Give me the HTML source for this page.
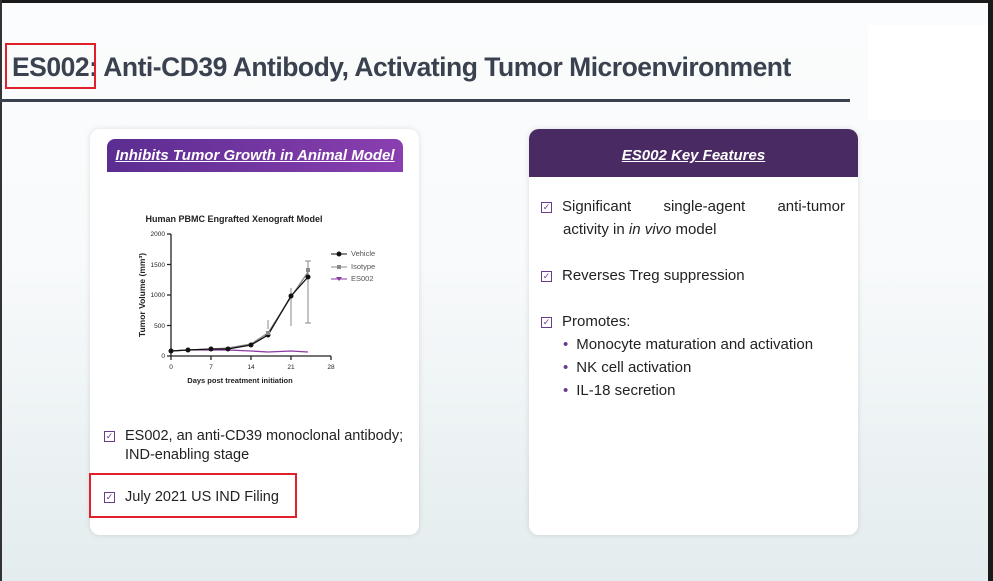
<!DOCTYPE html><html><head><style>
body{margin:0;width:993px;height:581px;overflow:hidden;font-family:"Liberation Sans",sans-serif;position:relative;background:linear-gradient(#fbfcfd 0%,#f8fafb 45%,#e3ecee 100%);}
.a{position:absolute}
.card{position:absolute;background:#fff;border-radius:10px;box-shadow:0 0 6px rgba(0,0,0,.12)}
.hd{position:absolute;color:#fff;font-weight:bold;font-style:italic;text-decoration:underline;font-size:15px;text-align:center}
.li{position:absolute;font-size:15px;color:#222;line-height:23px;white-space:nowrap}
.cb{display:inline-block;width:9px;height:9px;border:1px solid #6a3c8c;margin-right:10px;vertical-align:1px;font-size:9px;line-height:9px;color:#6a3c8c;text-align:center}
</style></head><body>
<div class="a" style="left:0;top:0;width:993px;height:3px;background:#1a1a1a"></div>
<div class="a" style="right:0;top:0;width:5px;height:581px;background:#1a1a1a"></div>
<div class="a" style="left:0;top:0;width:2px;height:581px;background:#333"></div>
<div class="a" style="left:868px;top:25px;width:120px;height:95px;background:#fff"></div>
<div class="a" style="left:12px;top:52px;font-size:26.5px;font-weight:bold;color:#3a4250;letter-spacing:-0.5px">ES002: Anti-CD39 Antibody, Activating Tumor Microenvironment</div>
<div class="a" style="left:5px;top:43px;width:91px;height:46px;border:2px solid #e0202a;box-sizing:border-box"></div>
<div class="a" style="left:0;top:99px;width:850px;height:3px;background:#3a4250"></div>
<div class="card" style="left:90px;top:129px;width:329px;height:406px"></div>
<div class="a" style="left:107px;top:139px;width:296px;height:33px;border-radius:8px 8px 0 0;background:linear-gradient(90deg,#5b2d91,#8a3fb0)"></div>
<div class="hd" style="left:107px;top:147px;width:296px">Inhibits Tumor Growth in Animal Model</div>
<div class="card" style="left:529px;top:129px;width:329px;height:406px"></div>
<div class="a" style="left:529px;top:129px;width:329px;height:48px;border-radius:10px 10px 0 0;background:#4a2a62"></div>
<div class="hd" style="left:529px;top:147px;width:329px">ES002 Key Features</div>
<svg class="a" style="left:130px;top:205px" width="260" height="180" font-family="Liberation Sans" >
<text x="104" y="17" font-size="9" font-weight="bold" text-anchor="middle" fill="#222">Human PBMC Engrafted Xenograft Model</text>
<g stroke="#222" stroke-width="1.3" fill="none"><path d="M41 29V151H201"/>
<path d="M37 29h4M37 59.5h4M37 90h4M37 120.5h4M37 151h4M41 151v4M81 151v4M121 151v4M161 151v4M201 151v4"/></g>
<g font-size="6.5" fill="#222" text-anchor="end"><text x="35" y="31">2000</text><text x="35" y="62">1500</text><text x="35" y="92">1000</text><text x="35" y="123">500</text><text x="35" y="153">0</text></g>
<g font-size="6.5" fill="#222" text-anchor="middle"><text x="41" y="164">0</text><text x="81" y="164">7</text><text x="121" y="164">14</text><text x="161" y="164">21</text><text x="201" y="164">28</text></g>
<text x="110" y="178" font-size="7.5" font-weight="bold" text-anchor="middle" fill="#222">Days post treatment initiation</text>
<text transform="translate(15,90) rotate(-90)" font-size="8.5" font-weight="bold" text-anchor="middle" fill="#222">Tumor Volume (mm³)</text>
<polyline points="41,146 58,145 81,145 98,145 121,146 138,147 161,146 178,147" stroke="#8b3aa0" fill="none" stroke-width="1.3"/>
<g stroke="#888" fill="none" stroke-width="1"><path d="M138 124v-9M161 121v-38M178 118v-62M175 56h6M175 118h6"/></g>
<polyline points="41,146 58,145 81,144 98,143 121,139 138,128 161,92 178,67" stroke="#888" fill="none" stroke-width="1.3"/>
<polyline points="41,146 58,145 81,144 98,144 121,140 138,130 161,91 178,72" stroke="#111" fill="none" stroke-width="1.3"/>
<g fill="#111"><circle cx="41" cy="146" r="2.5"/><circle cx="58" cy="145" r="2.5"/><circle cx="81" cy="144" r="2.5"/><circle cx="98" cy="144" r="2.5"/><circle cx="121" cy="140" r="2.5"/><circle cx="138" cy="130" r="2.5"/><circle cx="161" cy="91" r="2.5"/><circle cx="178" cy="72" r="2.5"/></g>
<g fill="#888"><rect x="136" y="126" width="4" height="4"/><rect x="176" y="63" width="4" height="4"/></g>
<path d="M201 49h16" stroke="#111"/><circle cx="209" cy="49" r="2.5" fill="#111"/>
<path d="M201 62h16" stroke="#888"/><rect x="207" y="60" width="4" height="4" fill="#888"/>
<path d="M201 74h16" stroke="#8b3aa0"/><path d="M206 72h6l-3 4z" fill="#8b3aa0"/>
<g font-size="7.5" fill="#555"><text x="221" y="51">Vehicle</text><text x="221" y="64">Isotype</text><text x="221" y="76">ES002</text></g>
</svg>
<div class="li" style="left:104px;top:425px;font-size:14.5px"><span class="cb">✓</span>ES002, an anti-CD39 monoclonal antibody;</div>
<div class="li" style="left:125px;top:444px;font-size:14.5px">IND-enabling stage</div>
<div class="li" style="left:104px;top:486px;font-size:14.5px"><span class="cb">✓</span>July 2021 US IND Filing</div>
<div class="a" style="left:89px;top:473px;width:208px;height:45px;border:2px solid #e0202a;box-sizing:border-box"></div>
<div class="li" style="left:541px;top:195px;width:306px"><span class="cb">✓</span><span style="display:inline-block;width:283px;text-align:justify;text-align-last:justify;vertical-align:top">Significant single-agent anti-tumor</span><br><span style="margin-left:22px">activity in <i>in vivo</i> model</span></div>
<div class="li" style="left:541px;top:264px"><span class="cb">✓</span>Reverses Treg suppression</div>
<div class="li" style="left:541px;top:310px"><span class="cb">✓</span>Promotes:</div>
<div class="li" style="left:563px;top:333px"><span style="color:#6a3c8c;margin-right:8px">•</span>Monocyte maturation and activation<br><span style="color:#6a3c8c;margin-right:8px">•</span>NK cell activation<br><span style="color:#6a3c8c;margin-right:8px">•</span>IL-18 secretion</div>
</body></html>
